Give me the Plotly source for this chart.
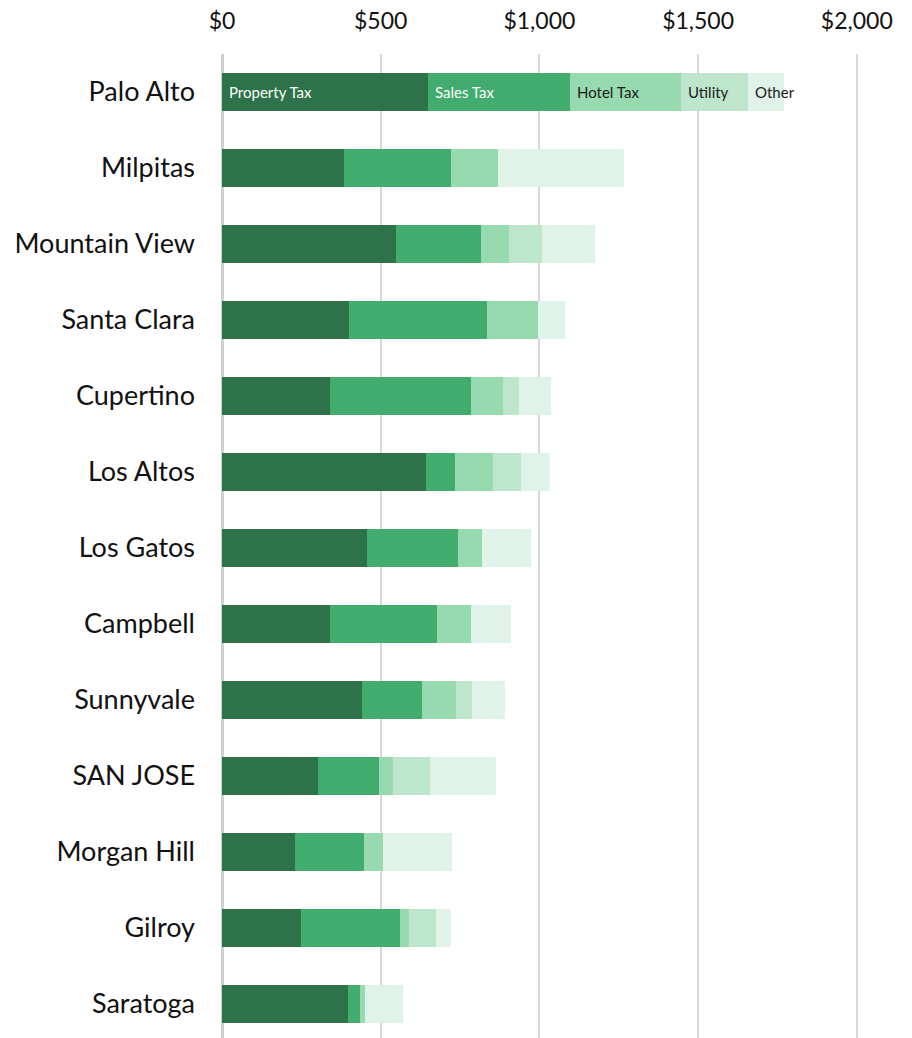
import plotly.graph_objects as go

cities = ["Palo Alto", "Milpitas", "Mountain View", "Santa Clara", "Cupertino",
          "Los Altos", "Los Gatos", "Campbell", "Sunnyvale", "SAN JOSE",
          "Morgan Hill", "Gilroy", "Saratoga"]

property_tax = [650, 385, 549, 400, 341, 643, 457, 341, 440, 301, 231, 249, 398]
sales_tax = [446, 337, 268, 434, 444, 92, 286, 337, 191, 194, 217, 313, 38]
hotel_tax = [349, 148, 88, 162, 99, 119, 76, 107, 107, 45, 60, 28, 13]
utility = [211, 0, 104, 0, 51, 88, 0, 0, 49, 115, 0, 85, 0]
other = [114, 397, 167, 85, 101, 91, 155, 126, 104, 209, 218, 47, 121]

series_names = ["Property Tax", "Sales Tax", "Hotel Tax", "Utility", "Other"]
series_values = [property_tax, sales_tax, hotel_tax, utility, other]
colors = ["#2d7248", "#41ac6d", "#98dab0", "#bde6cd", "#e0f3e8"]
label_colors = ["white", "white", "#1a1a1a", "#1a1a1a", "#1a1a1a"]

tick_vals = [0, 500, 1000, 1500, 2000]
tick_text = ["$0", "$500", "$1,000", "$1,500", "$2,000"]

FONT = "Lato, 'Open Sans', sans-serif"

fig = go.Figure()
for name, vals, col in zip(series_names, series_values, colors):
    fig.add_trace(go.Bar(
        y=cities, x=vals, name=name, orientation="h",
        marker=dict(color=col, line=dict(width=0)),
        width=0.5, hoverinfo="x+name",
    ))

# Inline series labels on the first bar
start = 0
for name, vals, lc in zip(series_names, series_values, label_colors):
    fig.add_annotation(
        x=start, y=cities[0], xref="x", yref="y", text=name,
        showarrow=False, xanchor="left", xshift=5,
        font=dict(family=FONT, size=15, color=lc),
    )
    start += vals[0]

fig.update_layout(
    barmode="stack",
    width=912, height=1038,
    margin=dict(l=222, r=0, t=54, b=0),
    paper_bgcolor="white", plot_bgcolor="white",
    showlegend=False,
    font=dict(family=FONT, color="#111"),
    xaxis=dict(
        side="top", range=[0, 2174],
        tickvals=tick_vals, ticktext=tick_text,
        tickfont=dict(family=FONT, size=23, color="#111"),
        showgrid=True, gridcolor="#d9d9d9", gridwidth=1.5,
        zeroline=True, zerolinecolor="#cfcfcf", zerolinewidth=2.5,
        ticks="", ticklabelstandoff=19, fixedrange=True,
    ),
    yaxis=dict(
        type="category", categoryorder="array", categoryarray=cities,
        range=[12.45, -0.5],
        tickfont=dict(family=FONT, size=27, color="#111"),
        showgrid=False, zeroline=False, ticks="", ticklabelstandoff=26,
    ),
)

fig.write_html("out.html")
